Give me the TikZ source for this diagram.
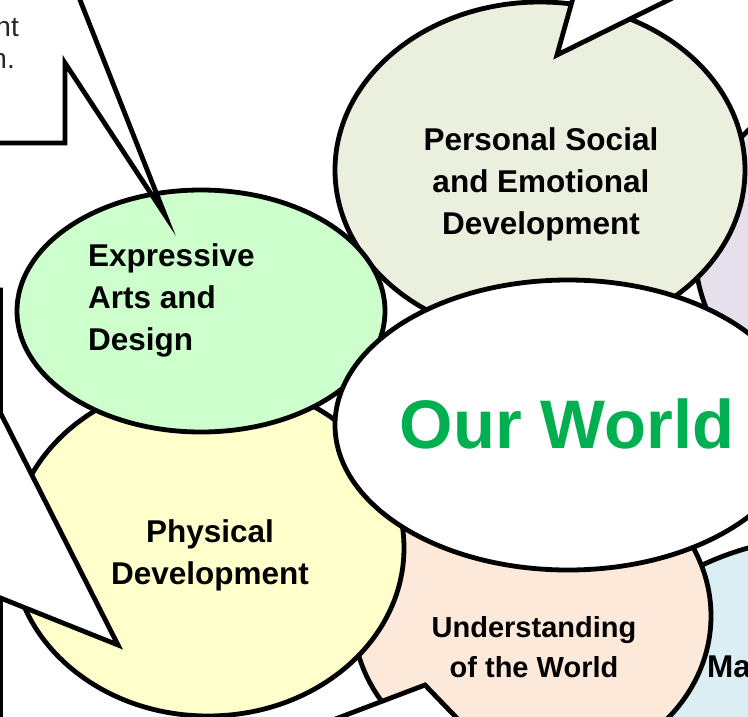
\documentclass[tikz,border=0pt]{standalone}
\usepackage{fontspec}
\setmainfont{Liberation Sans}
\usetikzlibrary{positioning}
\definecolor{psedfill}{HTML}{EBEFDD}
\definecolor{eadfill}{HTML}{CCFFCC}
\definecolor{pdfill}{HTML}{FFFFCC}
\definecolor{uwfill}{HTML}{FDE9DA}
\definecolor{mathfill}{HTML}{DAEEF3}
\definecolor{clfill}{HTML}{E5E0EC}
\definecolor{worldgreen}{HTML}{00B050}
\definecolor{notegray}{HTML}{262626}
\tikzset{
  bubble/.style={draw=black, line width=4.8pt},
  area/.style={font=\fontsize{31.5}{42}\selectfont\bfseries, align=center, inner sep=0pt},
  note/.style={font=\fontsize{28}{33}\selectfont, text=notegray, inner sep=0pt}
}

\begin{document}
\begin{tikzpicture}[x=1pt,y=-1pt]
\useasboundingbox (0,0) rectangle (748,716);
\clip (0,0) rectangle (748,716);
% bubbles, back to front
\filldraw[bubble, fill=clfill] (905,250) ellipse [x radius=210, y radius=180];
\filldraw[bubble, fill=mathfill] (830,737) ellipse [x radius=250, y radius=200];
\filldraw[bubble, fill=uwfill] (532,616) ellipse [x radius=179, y radius=157];
\filldraw[bubble, fill=pdfill] (208,548) ellipse [x radius=196, y radius=168];
\filldraw[bubble, fill=psedfill] (540,170) ellipse [x radius=205, y radius=168];
\filldraw[bubble, fill=eadfill] (201,311) ellipse [x radius=184, y radius=121];
\filldraw[bubble, fill=white] (568,425) ellipse [x radius=233, y radius=145];
% callout boxes and tails
\filldraw[bubble, fill=white] (-200,-100) -- (65,-100) -- (65,-38) -- (165,215) -- (65,63) -- (65,143) -- (-200,143) -- cycle;
\filldraw[bubble, fill=white] (-200,290) -- (0.5,290) -- (0.5,413) -- (118,645) -- (0.5,598) -- (0.5,800) -- (-200,800) -- cycle;
\filldraw[bubble, fill=white] (578,-20) -- (557,55) -- (709,-20) -- cycle;
\filldraw[bubble, fill=white] (280,740) -- (425,685) -- (478,740) -- cycle;
% labels
\node[area, anchor=center] (psed) at (541,184) {Personal Social\\and Emotional\\Development};
\node[area, anchor=west, align=left] (ead) at (88,300) {Expressive\\Arts and\\Design};
\node[area, anchor=center] (pd) at (210,555) {Physical\\Development};
\node[area, anchor=center, font=\fontsize{29}{40}\selectfont\bfseries] (uw) at (534,647) {Understanding\\of the World};
\node[area, anchor=base west] (maths) at (707,677) {Mathematics};
\node[area, anchor=center, font=\fontsize{68.7}{80}\selectfont\bfseries, text=worldgreen] (world) at (567,424) {Our World};
\node[note, anchor=base east] (noteA) at (19,36) {nt};
\node[note, anchor=base east] (noteB) at (15,68) {n.};
\end{tikzpicture}
\end{document}
